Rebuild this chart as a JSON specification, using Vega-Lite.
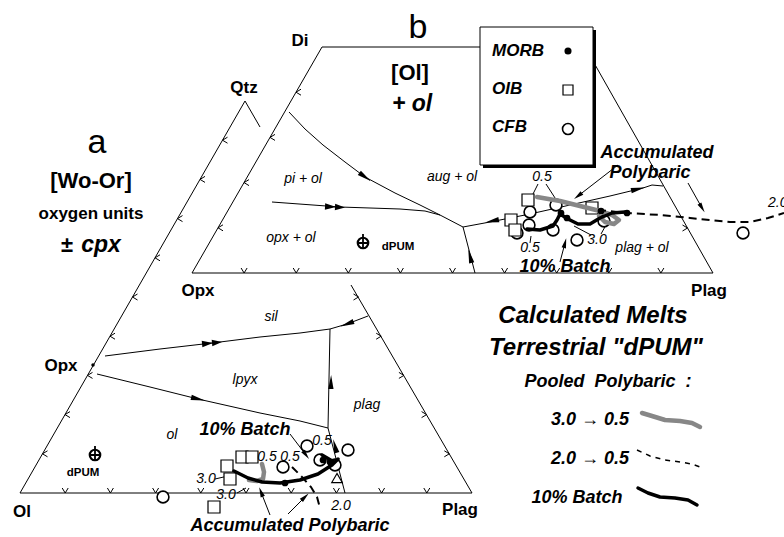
{
  "$schema": "https://vega.github.io/schema/vega-lite/v6.json",
  "width": 784,
  "height": 537,
  "padding": 0,
  "autosize": {"type": "none"},
  "background": "white",
  "config": {"view": {"stroke": null}, "font": "Liberation Sans"},
  "datasets": {
    "paths": [
      {"id": "E1", "s": "thin", "k": 0, "x": 20, "y": 493}, {"id": "E1", "s": "thin", "k": 1, "x": 245, "y": 101},
      {"id": "E2", "s": "thin", "k": 0, "x": 245, "y": 101}, {"id": "E2", "s": "thin", "k": 1, "x": 260, "y": 127},
      {"id": "E3", "s": "thin", "k": 0, "x": 351, "y": 285}, {"id": "E3", "s": "thin", "k": 1, "x": 472, "y": 493},
      {"id": "E4", "s": "thin", "k": 0, "x": 20, "y": 493}, {"id": "E4", "s": "thin", "k": 1, "x": 472, "y": 493},
      {"id": "E5", "s": "thin", "k": 0, "x": 192, "y": 273}, {"id": "E5", "s": "thin", "k": 1, "x": 322, "y": 47},
      {"id": "E6", "s": "thin", "k": 0, "x": 322, "y": 47}, {"id": "E6", "s": "thin", "k": 1, "x": 585, "y": 47},
      {"id": "E7", "s": "thin", "k": 0, "x": 585, "y": 47}, {"id": "E7", "s": "thin", "k": 1, "x": 713, "y": 273},
      {"id": "E8", "s": "thin", "k": 0, "x": 192, "y": 273}, {"id": "E8", "s": "thin", "k": 1, "x": 713, "y": 273},
      {"id": "B1", "s": "thin", "k": 0, "x": 289, "y": 112}, {"id": "B1", "s": "thin", "k": 1, "x": 305, "y": 129},
      {"id": "B1", "s": "thin", "k": 2, "x": 323, "y": 145}, {"id": "B1", "s": "thin", "k": 3, "x": 345, "y": 162},
      {"id": "B1", "s": "thin", "k": 4, "x": 365, "y": 177}, {"id": "B1", "s": "thin", "k": 5, "x": 395, "y": 193},
      {"id": "B1", "s": "thin", "k": 6, "x": 420, "y": 205}, {"id": "B1", "s": "thin", "k": 7, "x": 440, "y": 215},
      {"id": "B1", "s": "thin", "k": 8, "x": 463, "y": 227},
      {"id": "B2", "s": "thin", "k": 0, "x": 272, "y": 202}, {"id": "B2", "s": "thin", "k": 1, "x": 340, "y": 207},
      {"id": "B2", "s": "thin", "k": 2, "x": 400, "y": 209}, {"id": "B2", "s": "thin", "k": 3, "x": 425, "y": 211},
      {"id": "B2", "s": "thin", "k": 4, "x": 440, "y": 215},
      {"id": "B3", "s": "thin", "k": 0, "x": 463, "y": 227}, {"id": "B3", "s": "thin", "k": 1, "x": 490, "y": 222},
      {"id": "B3", "s": "thin", "k": 2, "x": 530, "y": 214}, {"id": "B3", "s": "thin", "k": 3, "x": 570, "y": 205},
      {"id": "B3", "s": "thin", "k": 4, "x": 610, "y": 196}, {"id": "B3", "s": "thin", "k": 5, "x": 643, "y": 188},
      {"id": "B3", "s": "thin", "k": 6, "x": 652, "y": 185}, {"id": "B3", "s": "thin", "k": 7, "x": 663, "y": 186},
      {"id": "B4", "s": "thin", "k": 0, "x": 463, "y": 227}, {"id": "B4", "s": "thin", "k": 1, "x": 469, "y": 250},
      {"id": "B4", "s": "thin", "k": 2, "x": 475, "y": 273},
      {"id": "A1", "s": "thin", "k": 0, "x": 105, "y": 356}, {"id": "A1", "s": "thin", "k": 1, "x": 160, "y": 349},
      {"id": "A1", "s": "thin", "k": 2, "x": 212, "y": 343}, {"id": "A1", "s": "thin", "k": 3, "x": 260, "y": 337},
      {"id": "A1", "s": "thin", "k": 4, "x": 300, "y": 333}, {"id": "A1", "s": "thin", "k": 5, "x": 330, "y": 329},
      {"id": "A1", "s": "thin", "k": 6, "x": 347, "y": 324}, {"id": "A1", "s": "thin", "k": 7, "x": 368, "y": 316},
      {"id": "A2", "s": "thin", "k": 0, "x": 97, "y": 374}, {"id": "A2", "s": "thin", "k": 1, "x": 150, "y": 387},
      {"id": "A2", "s": "thin", "k": 2, "x": 198, "y": 399}, {"id": "A2", "s": "thin", "k": 3, "x": 260, "y": 413},
      {"id": "A2", "s": "thin", "k": 4, "x": 300, "y": 421}, {"id": "A2", "s": "thin", "k": 5, "x": 328, "y": 428},
      {"id": "A3", "s": "thin", "k": 0, "x": 328, "y": 428}, {"id": "A3", "s": "thin", "k": 1, "x": 330, "y": 329},
      {"id": "A4", "s": "thin", "k": 0, "x": 328, "y": 428}, {"id": "A4", "s": "thin", "k": 1, "x": 345, "y": 493},
      {"id": "L1", "s": "thin", "k": 0, "x": 618, "y": 165}, {"id": "L1", "s": "thin", "k": 1, "x": 578, "y": 196},
      {"id": "L2", "s": "thin", "k": 0, "x": 688, "y": 183}, {"id": "L2", "s": "thin", "k": 1, "x": 702, "y": 208},
      {"id": "L3", "s": "thin", "k": 0, "x": 560, "y": 262}, {"id": "L3", "s": "thin", "k": 1, "x": 565, "y": 243},
      {"id": "L4", "s": "thin", "k": 0, "x": 538, "y": 184}, {"id": "L4", "s": "thin", "k": 1, "x": 532, "y": 196},
      {"id": "L5", "s": "thin", "k": 0, "x": 546, "y": 184}, {"id": "L5", "s": "thin", "k": 1, "x": 557, "y": 201},
      {"id": "L6", "s": "thin", "k": 0, "x": 530, "y": 243}, {"id": "L6", "s": "thin", "k": 1, "x": 531, "y": 236},
      {"id": "L7", "s": "thin", "k": 0, "x": 591, "y": 235}, {"id": "L7", "s": "thin", "k": 1, "x": 574, "y": 226},
      {"id": "L8", "s": "thin", "k": 0, "x": 601, "y": 234}, {"id": "L8", "s": "thin", "k": 1, "x": 606, "y": 225},
      {"id": "L9", "s": "thin", "k": 0, "x": 290, "y": 434}, {"id": "L9", "s": "thin", "k": 1, "x": 306, "y": 455},
      {"id": "L10", "s": "thin", "k": 0, "x": 270, "y": 515}, {"id": "L10", "s": "thin", "k": 1, "x": 261, "y": 492},
      {"id": "L11", "s": "thin", "k": 0, "x": 288, "y": 514}, {"id": "L11", "s": "thin", "k": 1, "x": 305, "y": 497},
      {"id": "L12", "s": "thin", "k": 0, "x": 215, "y": 479}, {"id": "L12", "s": "thin", "k": 1, "x": 228, "y": 476},
      {"id": "L13", "s": "thin", "k": 0, "x": 237, "y": 493}, {"id": "L13", "s": "thin", "k": 1, "x": 246, "y": 488},
      {"id": "G1", "s": "gray", "k": 0, "x": 537, "y": 197}, {"id": "G1", "s": "gray", "k": 1, "x": 560, "y": 201},
      {"id": "G1", "s": "gray", "k": 2, "x": 580, "y": 206}, {"id": "G1", "s": "gray", "k": 3, "x": 600, "y": 211},
      {"id": "G1", "s": "gray", "k": 4, "x": 612, "y": 215}, {"id": "G1", "s": "gray", "k": 5, "x": 619, "y": 220},
      {"id": "G1", "s": "gray", "k": 6, "x": 614, "y": 224}, {"id": "G1", "s": "gray", "k": 7, "x": 605, "y": 222},
      {"id": "G1", "s": "gray", "k": 8, "x": 599, "y": 216},
      {"id": "G2", "s": "gray", "k": 0, "x": 262, "y": 464}, {"id": "G2", "s": "gray", "k": 1, "x": 264, "y": 472},
      {"id": "G2", "s": "gray", "k": 2, "x": 263, "y": 479}, {"id": "G2", "s": "gray", "k": 3, "x": 257, "y": 481},
      {"id": "G2", "s": "gray", "k": 4, "x": 249, "y": 480},
      {"id": "G3", "s": "gray", "k": 0, "x": 642, "y": 413}, {"id": "G3", "s": "gray", "k": 1, "x": 652, "y": 416},
      {"id": "G3", "s": "gray", "k": 2, "x": 665, "y": 420}, {"id": "G3", "s": "gray", "k": 3, "x": 680, "y": 421},
      {"id": "G3", "s": "gray", "k": 4, "x": 692, "y": 423}, {"id": "G3", "s": "gray", "k": 5, "x": 700, "y": 427},
      {"id": "K1", "s": "batch", "k": 0, "x": 527, "y": 229}, {"id": "K1", "s": "batch", "k": 1, "x": 540, "y": 230},
      {"id": "K1", "s": "batch", "k": 2, "x": 553, "y": 226}, {"id": "K1", "s": "batch", "k": 3, "x": 557, "y": 220},
      {"id": "K1", "s": "batch", "k": 4, "x": 560, "y": 214}, {"id": "K1", "s": "batch", "k": 5, "x": 568, "y": 219},
      {"id": "K1", "s": "batch", "k": 6, "x": 578, "y": 224}, {"id": "K1", "s": "batch", "k": 7, "x": 590, "y": 224},
      {"id": "K1", "s": "batch", "k": 8, "x": 600, "y": 218}, {"id": "K1", "s": "batch", "k": 9, "x": 612, "y": 213},
      {"id": "K1", "s": "batch", "k": 10, "x": 625, "y": 212},
      {"id": "K2", "s": "batch", "k": 0, "x": 234, "y": 471}, {"id": "K2", "s": "batch", "k": 1, "x": 248, "y": 478},
      {"id": "K2", "s": "batch", "k": 2, "x": 262, "y": 482}, {"id": "K2", "s": "batch", "k": 3, "x": 280, "y": 483},
      {"id": "K2", "s": "batch", "k": 4, "x": 300, "y": 480}, {"id": "K2", "s": "batch", "k": 5, "x": 318, "y": 474},
      {"id": "K2", "s": "batch", "k": 6, "x": 332, "y": 465}, {"id": "K2", "s": "batch", "k": 7, "x": 338, "y": 459},
      {"id": "K4", "s": "batch", "k": 0, "x": 322, "y": 455}, {"id": "K4", "s": "batch", "k": 1, "x": 334, "y": 462},
      {"id": "K3", "s": "batch", "k": 0, "x": 638, "y": 488}, {"id": "K3", "s": "batch", "k": 1, "x": 648, "y": 493},
      {"id": "K3", "s": "batch", "k": 2, "x": 660, "y": 497}, {"id": "K3", "s": "batch", "k": 3, "x": 675, "y": 498},
      {"id": "K3", "s": "batch", "k": 4, "x": 688, "y": 500}, {"id": "K3", "s": "batch", "k": 5, "x": 697, "y": 505},
      {"id": "D1", "s": "dash", "k": 0, "x": 598, "y": 210}, {"id": "D1", "s": "dash", "k": 1, "x": 627, "y": 213},
      {"id": "D1", "s": "dash", "k": 2, "x": 660, "y": 215}, {"id": "D1", "s": "dash", "k": 3, "x": 690, "y": 218},
      {"id": "D1", "s": "dash", "k": 4, "x": 710, "y": 220}, {"id": "D1", "s": "dash", "k": 5, "x": 730, "y": 222},
      {"id": "D1", "s": "dash", "k": 6, "x": 750, "y": 222}, {"id": "D1", "s": "dash", "k": 7, "x": 768, "y": 218},
      {"id": "D1", "s": "dash", "k": 8, "x": 784, "y": 213},
      {"id": "D2", "s": "dash", "k": 0, "x": 292, "y": 467}, {"id": "D2", "s": "dash", "k": 1, "x": 302, "y": 477},
      {"id": "D2", "s": "dash", "k": 2, "x": 311, "y": 487}, {"id": "D2", "s": "dash", "k": 3, "x": 317, "y": 497},
      {"id": "D2", "s": "dash", "k": 4, "x": 320, "y": 508},
      {"id": "D3", "s": "dashKey", "k": 0, "x": 637, "y": 450}, {"id": "D3", "s": "dashKey", "k": 1, "x": 650, "y": 456},
      {"id": "D3", "s": "dashKey", "k": 2, "x": 665, "y": 460}, {"id": "D3", "s": "dashKey", "k": 3, "x": 680, "y": 462},
      {"id": "D3", "s": "dashKey", "k": 4, "x": 692, "y": 464}, {"id": "D3", "s": "dashKey", "k": 5, "x": 700, "y": 467}
    ],
    "ticks": [
      {"side": "left", "x": 42.5, "y": 453.8}, {"side": "left", "x": 65, "y": 414.6}, {"side": "left", "x": 87.5, "y": 375.4},
      {"side": "left", "x": 110, "y": 336.2}, {"side": "left", "x": 132.5, "y": 297}, {"side": "left", "x": 155, "y": 257.8},
      {"side": "left", "x": 177.5, "y": 218.6}, {"side": "left", "x": 200, "y": 179.4}, {"side": "left", "x": 222.5, "y": 140.2},
      {"side": "left", "x": 218, "y": 227.8}, {"side": "left", "x": 244, "y": 182.6}, {"side": "left", "x": 270, "y": 137.4},
      {"side": "left", "x": 296, "y": 92.2},
      {"side": "bottom", "x": 65.2, "y": 493}, {"side": "bottom", "x": 110.4, "y": 493}, {"side": "bottom", "x": 155.6, "y": 493},
      {"side": "bottom", "x": 200.8, "y": 493}, {"side": "bottom", "x": 246, "y": 493}, {"side": "bottom", "x": 291.2, "y": 493},
      {"side": "bottom", "x": 336.4, "y": 493}, {"side": "bottom", "x": 381.6, "y": 493}, {"side": "bottom", "x": 426.8, "y": 493},
      {"side": "bottom", "x": 244.1, "y": 273}, {"side": "bottom", "x": 296.2, "y": 273}, {"side": "bottom", "x": 348.3, "y": 273},
      {"side": "bottom", "x": 400.4, "y": 273}, {"side": "bottom", "x": 452.5, "y": 273}, {"side": "bottom", "x": 504.6, "y": 273},
      {"side": "bottom", "x": 556.7, "y": 273}, {"side": "bottom", "x": 608.8, "y": 273}, {"side": "bottom", "x": 660.9, "y": 273},
      {"side": "right", "x": 358.5, "y": 297}, {"side": "right", "x": 381.2, "y": 336.2}, {"side": "right", "x": 403.9, "y": 375.4},
      {"side": "right", "x": 426.6, "y": 414.6}, {"side": "right", "x": 449.3, "y": 453.8}, {"side": "right", "x": 687.5, "y": 228}
    ],
    "arrows": [
      {"kind": "head", "x": 365, "y": 177, "dir": 36},
      {"kind": "dbl", "x": 335, "y": 207, "dir": 3},
      {"kind": "head", "x": 492, "y": 221, "dir": 168},
      {"kind": "head", "x": 638, "y": 189, "dir": -13},
      {"kind": "head", "x": 470, "y": 256, "dir": -104},
      {"kind": "dbl", "x": 212, "y": 343, "dir": -6},
      {"kind": "head", "x": 347, "y": 324, "dir": 160},
      {"kind": "head", "x": 198, "y": 399, "dir": 13},
      {"kind": "head", "x": 331, "y": 382, "dir": -89},
      {"kind": "head", "x": 335, "y": 446, "dir": -105},
      {"kind": "small", "x": 578, "y": 196, "dir": 142},
      {"kind": "small", "x": 702, "y": 208, "dir": 59},
      {"kind": "small", "x": 565, "y": 243, "dir": -76},
      {"kind": "small", "x": 306, "y": 455, "dir": 53},
      {"kind": "small", "x": 261, "y": 492, "dir": -111},
      {"kind": "small", "x": 305, "y": 497, "dir": -44}
    ],
    "samples": [
      {"group": "MORB", "x": 561, "y": 213}, {"group": "MORB", "x": 567, "y": 218}, {"group": "MORB", "x": 601, "y": 211},
      {"group": "MORB", "x": 627, "y": 213}, {"group": "MORB", "x": 285, "y": 483}, {"group": "MORB", "x": 323, "y": 460},
      {"group": "MORB", "x": 330, "y": 462},
      {"group": "OIB", "x": 528, "y": 200}, {"group": "OIB", "x": 592, "y": 208}, {"group": "OIB", "x": 511, "y": 220},
      {"group": "OIB", "x": 515, "y": 230}, {"group": "OIB", "x": 227, "y": 466}, {"group": "OIB", "x": 242, "y": 457},
      {"group": "OIB", "x": 252, "y": 457}, {"group": "OIB", "x": 230, "y": 479}, {"group": "OIB", "x": 214, "y": 507},
      {"group": "CFB", "x": 517, "y": 233}, {"group": "CFB", "x": 530, "y": 212}, {"group": "CFB", "x": 556, "y": 205},
      {"group": "CFB", "x": 529, "y": 225}, {"group": "CFB", "x": 553, "y": 230}, {"group": "CFB", "x": 577, "y": 240},
      {"group": "CFB", "x": 604, "y": 221}, {"group": "CFB", "x": 743, "y": 233}, {"group": "CFB", "x": 163, "y": 497},
      {"group": "CFB", "x": 283, "y": 467}, {"group": "CFB", "x": 307, "y": 446}, {"group": "CFB", "x": 320, "y": 460},
      {"group": "CFB", "x": 335, "y": 465}, {"group": "CFB", "x": 348, "y": 450},
      {"group": "other", "x": 337, "y": 478}
    ],
    "keys": [
      {"group": "MORB", "x": 568, "y": 51}, {"group": "OIB", "x": 568, "y": 90}, {"group": "CFB", "x": 568, "y": 129}
    ],
    "frame": [
      {"part": "shadow", "x": 483, "x2": 596, "y": 30, "y2": 168},
      {"part": "box", "x": 480, "x2": 593, "y": 27, "y2": 165}
    ],
    "refs": [
      {"kind": "dpum", "x": 363, "y": 243}, {"kind": "dpum", "x": 95, "y": 455}, {"kind": "opx", "x": 93, "y": 365}
    ],
    "labels": [
      {"kind": "letter", "x": 97, "y": 143, "text": "a"},
      {"kind": "letter", "x": 418, "y": 28, "text": "b"},
      {"kind": "head", "x": 91, "y": 181, "text": "[Wo-Or]"},
      {"kind": "head", "x": 410, "y": 73, "text": "[Ol]"},
      {"kind": "head", "x": 67, "y": 245, "text": "±"},
      {"kind": "headItal", "x": 101, "y": 245, "text": "cpx"},
      {"kind": "headItal", "x": 412, "y": 104, "text": "+ ol"},
      {"kind": "sub", "x": 91, "y": 214, "text": "oxygen units"},
      {"kind": "vertex", "x": 300, "y": 41, "text": "Di"},
      {"kind": "vertex", "x": 244, "y": 88, "text": "Qtz"},
      {"kind": "vertex", "x": 198, "y": 291, "text": "Opx"},
      {"kind": "vertex", "x": 709, "y": 291, "text": "Plag"},
      {"kind": "vertex", "x": 61, "y": 366, "text": "Opx"},
      {"kind": "vertex", "x": 22, "y": 512, "text": "Ol"},
      {"kind": "vertex", "x": 460, "y": 510, "text": "Plag"},
      {"kind": "field", "x": 303, "y": 179, "text": "pi + ol"},
      {"kind": "field", "x": 291, "y": 238, "text": "opx + ol"},
      {"kind": "field", "x": 452, "y": 177, "text": "aug + ol"},
      {"kind": "field", "x": 642, "y": 248, "text": "plag + ol"},
      {"kind": "field", "x": 271, "y": 317, "text": "sil"},
      {"kind": "field", "x": 245, "y": 380, "text": "lpyx"},
      {"kind": "field", "x": 367, "y": 405, "text": "plag"},
      {"kind": "field", "x": 172, "y": 435, "text": "ol"},
      {"kind": "pum", "x": 398, "y": 247, "text": "dPUM"},
      {"kind": "pum", "x": 83, "y": 473, "text": "dPUM"},
      {"kind": "key", "x": 492, "y": 51, "text": "MORB"},
      {"kind": "key", "x": 492, "y": 89, "text": "OIB"},
      {"kind": "key", "x": 492, "y": 127, "text": "CFB"},
      {"kind": "note", "x": 657, "y": 153, "text": "Accumulated"},
      {"kind": "note", "x": 650, "y": 173, "text": "Polybaric"},
      {"kind": "note", "x": 565, "y": 267, "text": "10% Batch"},
      {"kind": "note", "x": 245, "y": 430, "text": "10% Batch"},
      {"kind": "note", "x": 290, "y": 526, "text": "Accumulated Polybaric"},
      {"kind": "num", "x": 542, "y": 177, "text": "0.5"},
      {"kind": "num", "x": 530, "y": 248, "text": "0.5"},
      {"kind": "num", "x": 597, "y": 240, "text": "3.0"},
      {"kind": "num", "x": 267, "y": 457, "text": "0.5"},
      {"kind": "num", "x": 290, "y": 457, "text": "0.5"},
      {"kind": "num", "x": 322, "y": 441, "text": "0.5"},
      {"kind": "num", "x": 206, "y": 479, "text": "3.0"},
      {"kind": "num", "x": 226, "y": 495, "text": "3.0"},
      {"kind": "num", "x": 341, "y": 506, "text": "2.0"},
      {"kind": "numLeft", "x": 768, "y": 203, "text": "2.0"},
      {"kind": "title", "x": 593, "y": 316, "text": "Calculated Melts"},
      {"kind": "title", "x": 596, "y": 348, "text": "Terrestrial \"dPUM\""},
      {"kind": "sample", "x": 608, "y": 382, "text": "Pooled\u00a0 Polybaric\u00a0 :"},
      {"kind": "sample", "x": 590, "y": 420, "text": "3.0 → 0.5"},
      {"kind": "sample", "x": 590, "y": 459, "text": "2.0 → 0.5"},
      {"kind": "sample", "x": 577, "y": 498, "text": "10% Batch"}
    ]
  },
  "encoding": {
    "x": {"field": "x", "type": "quantitative", "scale": {"domain": [0, 784]}, "axis": null},
    "y": {"field": "y", "type": "quantitative", "scale": {"domain": [0, 537], "reverse": true}, "axis": null}
  },
  "layer": [
    {
      "data": {"name": "paths"},
      "transform": [{"filter": "datum.s === 'thin'"}],
      "mark": {"type": "line", "color": "black", "strokeWidth": 1},
      "encoding": {"detail": {"field": "id"}, "order": {"field": "k", "type": "quantitative"}}
    },
    {
      "data": {"name": "frame"},
      "transform": [{"filter": "datum.part === 'shadow'"}],
      "mark": {"type": "rect", "color": "black"},
      "encoding": {"x2": {"field": "x2"}, "y2": {"field": "y2"}}
    },
    {
      "data": {"name": "frame"},
      "transform": [{"filter": "datum.part === 'box'"}],
      "mark": {"type": "rect", "fill": "white", "stroke": "black", "strokeWidth": 1},
      "encoding": {"x2": {"field": "x2"}, "y2": {"field": "y2"}}
    },
    {
      "data": {"name": "ticks"},
      "transform": [{"filter": "datum.side === 'left'"}],
      "mark": {"type": "point", "shape": "M1,-0.6L0,0L1,0.6", "filled": false, "stroke": "black", "strokeWidth": 1, "size": 100, "opacity": 1}
    },
    {
      "data": {"name": "ticks"},
      "transform": [{"filter": "datum.side === 'bottom'"}],
      "mark": {"type": "point", "shape": "M-0.6,-1L0,0L0.6,-1", "filled": false, "stroke": "black", "strokeWidth": 1, "size": 100, "opacity": 1}
    },
    {
      "data": {"name": "ticks"},
      "transform": [{"filter": "datum.side === 'right'"}],
      "mark": {"type": "point", "shape": "M-1,-0.6L0,0L-1,0.6", "filled": false, "stroke": "black", "strokeWidth": 1, "size": 100, "opacity": 1}
    },
    {
      "data": {"name": "samples"},
      "transform": [{"filter": "datum.group === 'CFB'"}],
      "mark": {"type": "point", "shape": "circle", "filled": true, "fill": "white", "stroke": "black", "strokeWidth": 1.6, "size": 140, "opacity": 1}
    },
    {
      "data": {"name": "samples"},
      "transform": [{"filter": "datum.group === 'OIB'"}],
      "mark": {"type": "point", "shape": "square", "filled": true, "fill": "white", "stroke": "black", "strokeWidth": 1.2, "size": 144, "opacity": 1}
    },
    {
      "data": {"name": "samples"},
      "transform": [{"filter": "datum.group === 'other'"}],
      "mark": {"type": "point", "shape": "triangle-up", "filled": false, "stroke": "black", "strokeWidth": 1.2, "size": 110, "opacity": 1}
    },
    {
      "data": {"name": "paths"},
      "transform": [{"filter": "datum.s === 'gray'"}],
      "mark": {"type": "line", "color": "#878787", "strokeWidth": 4.5, "strokeCap": "round", "strokeJoin": "round"},
      "encoding": {"detail": {"field": "id"}, "order": {"field": "k", "type": "quantitative"}}
    },
    {
      "data": {"name": "paths"},
      "transform": [{"filter": "datum.s === 'batch'"}],
      "mark": {"type": "line", "color": "black", "strokeWidth": 3.5, "strokeCap": "round", "strokeJoin": "round"},
      "encoding": {"detail": {"field": "id"}, "order": {"field": "k", "type": "quantitative"}}
    },
    {
      "data": {"name": "paths"},
      "transform": [{"filter": "datum.s === 'dash'"}],
      "mark": {"type": "line", "color": "black", "strokeWidth": 2, "strokeDash": [8, 5]},
      "encoding": {"detail": {"field": "id"}, "order": {"field": "k", "type": "quantitative"}}
    },
    {
      "data": {"name": "paths"},
      "transform": [{"filter": "datum.s === 'dashKey'"}],
      "mark": {"type": "line", "color": "black", "strokeWidth": 1.5, "strokeDash": [5, 5]},
      "encoding": {"detail": {"field": "id"}, "order": {"field": "k", "type": "quantitative"}}
    },
    {
      "data": {"name": "samples"},
      "transform": [{"filter": "datum.group === 'MORB'"}],
      "mark": {"type": "point", "shape": "circle", "filled": true, "color": "black", "size": 45, "opacity": 1}
    },
    {
      "data": {"name": "keys"},
      "transform": [{"filter": "datum.group === 'MORB'"}],
      "mark": {"type": "point", "shape": "circle", "filled": true, "color": "black", "size": 50, "opacity": 1}
    },
    {
      "data": {"name": "keys"},
      "transform": [{"filter": "datum.group === 'OIB'"}],
      "mark": {"type": "point", "shape": "square", "filled": false, "stroke": "black", "strokeWidth": 1.2, "size": 100, "opacity": 1}
    },
    {
      "data": {"name": "keys"},
      "transform": [{"filter": "datum.group === 'CFB'"}],
      "mark": {"type": "point", "shape": "circle", "filled": false, "stroke": "black", "strokeWidth": 1.6, "size": 120, "opacity": 1}
    },
    {
      "data": {"name": "refs"},
      "transform": [{"filter": "datum.kind === 'dpum'"}],
      "mark": {"type": "point", "shape": "circle", "filled": false, "stroke": "black", "strokeWidth": 2.2, "size": 110, "opacity": 1}
    },
    {
      "data": {"name": "refs"},
      "transform": [{"filter": "datum.kind === 'dpum'"}],
      "mark": {"type": "point", "shape": "M0,-1.7L0,1M-1,0L1,0", "filled": false, "stroke": "black", "strokeWidth": 1.8, "size": 110, "opacity": 1}
    },
    {
      "data": {"name": "refs"},
      "transform": [{"filter": "datum.kind === 'opx'"}],
      "mark": {"type": "point", "shape": "circle", "filled": true, "color": "black", "size": 12, "opacity": 1}
    },
    {
      "data": {"name": "arrows"},
      "transform": [{"filter": "datum.kind === 'head'"}],
      "mark": {"type": "point", "shape": "M1,0L-1,-0.38L-1,0.38Z", "filled": true, "color": "black", "size": 196, "opacity": 1},
      "encoding": {"angle": {"field": "dir", "type": "quantitative", "scale": null}}
    },
    {
      "data": {"name": "arrows"},
      "transform": [{"filter": "datum.kind === 'dbl'"}],
      "mark": {"type": "point", "shape": "M1,0L0,-0.32L0,0.32ZM0.1,0L-1,-0.32L-1,0.32Z", "filled": true, "color": "black", "size": 400, "opacity": 1},
      "encoding": {"angle": {"field": "dir", "type": "quantitative", "scale": null}}
    },
    {
      "data": {"name": "arrows"},
      "transform": [{"filter": "datum.kind === 'small'"}],
      "mark": {"type": "point", "shape": "M1,0L-1,-0.45L-1,0.45Z", "filled": true, "color": "black", "size": 100, "opacity": 1},
      "encoding": {"angle": {"field": "dir", "type": "quantitative", "scale": null}}
    },
    {
      "data": {"name": "labels"},
      "transform": [{"filter": "datum.kind === 'letter'"}],
      "mark": {"type": "text", "fontSize": 34, "align": "center", "baseline": "middle", "color": "black"},
      "encoding": {"text": {"field": "text"}}
    },
    {
      "data": {"name": "labels"},
      "transform": [{"filter": "datum.kind === 'head'"}],
      "mark": {"type": "text", "fontSize": 22, "fontWeight": "bold", "align": "center", "baseline": "middle", "color": "black"},
      "encoding": {"text": {"field": "text"}}
    },
    {
      "data": {"name": "labels"},
      "transform": [{"filter": "datum.kind === 'headItal'"}],
      "mark": {"type": "text", "fontSize": 23, "fontWeight": "bold", "fontStyle": "italic", "align": "center", "baseline": "middle", "color": "black"},
      "encoding": {"text": {"field": "text"}}
    },
    {
      "data": {"name": "labels"},
      "transform": [{"filter": "datum.kind === 'sub'"}],
      "mark": {"type": "text", "fontSize": 17, "fontWeight": "bold", "align": "center", "baseline": "middle", "color": "black"},
      "encoding": {"text": {"field": "text"}}
    },
    {
      "data": {"name": "labels"},
      "transform": [{"filter": "datum.kind === 'vertex'"}],
      "mark": {"type": "text", "fontSize": 17, "fontWeight": "bold", "align": "center", "baseline": "middle", "color": "black"},
      "encoding": {"text": {"field": "text"}}
    },
    {
      "data": {"name": "labels"},
      "transform": [{"filter": "datum.kind === 'field'"}],
      "mark": {"type": "text", "fontSize": 14, "fontStyle": "italic", "align": "center", "baseline": "middle", "color": "black"},
      "encoding": {"text": {"field": "text"}}
    },
    {
      "data": {"name": "labels"},
      "transform": [{"filter": "datum.kind === 'pum'"}],
      "mark": {"type": "text", "fontSize": 11.5, "fontWeight": "bold", "align": "center", "baseline": "middle", "color": "black"},
      "encoding": {"text": {"field": "text"}}
    },
    {
      "data": {"name": "labels"},
      "transform": [{"filter": "datum.kind === 'key'"}],
      "mark": {"type": "text", "fontSize": 17, "fontWeight": "bold", "fontStyle": "italic", "align": "left", "baseline": "middle", "color": "black"},
      "encoding": {"text": {"field": "text"}}
    },
    {
      "data": {"name": "labels"},
      "transform": [{"filter": "datum.kind === 'note'"}],
      "mark": {"type": "text", "fontSize": 18, "fontWeight": "bold", "fontStyle": "italic", "align": "center", "baseline": "middle", "color": "black"},
      "encoding": {"text": {"field": "text"}}
    },
    {
      "data": {"name": "labels"},
      "transform": [{"filter": "datum.kind === 'num'"}],
      "mark": {"type": "text", "fontSize": 14, "fontStyle": "italic", "align": "center", "baseline": "middle", "color": "black"},
      "encoding": {"text": {"field": "text"}}
    },
    {
      "data": {"name": "labels"},
      "transform": [{"filter": "datum.kind === 'numLeft'"}],
      "mark": {"type": "text", "fontSize": 14, "fontStyle": "italic", "align": "left", "baseline": "middle", "color": "black"},
      "encoding": {"text": {"field": "text"}}
    },
    {
      "data": {"name": "labels"},
      "transform": [{"filter": "datum.kind === 'title'"}],
      "mark": {"type": "text", "fontSize": 24, "fontWeight": "bold", "fontStyle": "italic", "align": "center", "baseline": "middle", "color": "black"},
      "encoding": {"text": {"field": "text"}}
    },
    {
      "data": {"name": "labels"},
      "transform": [{"filter": "datum.kind === 'sample'"}],
      "mark": {"type": "text", "fontSize": 18, "fontWeight": "bold", "fontStyle": "italic", "align": "center", "baseline": "middle", "color": "black"},
      "encoding": {"text": {"field": "text"}}
    }
  ]
}
